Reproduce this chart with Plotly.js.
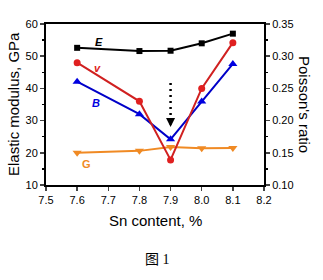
<!DOCTYPE html>
<html><head><meta charset="utf-8">
<script src="https://cdn.plot.ly/plotly-3.0.1.min.js"></script>
<style>html,body{margin:0;padding:0;background:#fff}#c{width:323px;height:280px}</style>
</head><body><div id="c"></div>
<script>
const snContent = [7.6, 7.8, 7.9, 8.0, 8.1];
const E = [52.6, 51.6, 51.7, 54.0, 57.0];
const B = [42.1, 32.0, 24.2, 35.9, 47.6];
const G = [20.0, 20.6, 21.8, 21.4, 21.5];
const nu = [0.290, 0.230, 0.139, 0.250, 0.321];
const xTicks = [7.5, 7.6, 7.7, 7.8, 7.9, 8.0, 8.1, 8.2];

const font = "Liberation Sans, Arial, sans-serif";
const traces = [
  {x: snContent, y: E, mode: 'lines+markers', line: {color: '#000', width: 2}, marker: {symbol: 'square', size: 6, color: '#000'}},
  {x: snContent, y: B, mode: 'lines+markers', line: {color: '#0000c8', width: 2}, marker: {symbol: 'triangle-up', size: 8, color: '#0000e0'}},
  {x: snContent, y: G, mode: 'lines+markers', line: {color: '#f08a24', width: 2}, marker: {symbol: 'triangle-down', size: 8, color: '#f08a24'}},
  {x: snContent, y: nu, yaxis: 'y2', mode: 'lines+markers', line: {color: '#d02020', width: 2}, marker: {symbol: 'circle', size: 7, color: '#e02020'}}
];
const layout = {
  width: 323, height: 280,
  margin: {l: 46, r: 59, t: 24, b: 95},
  paper_bgcolor: '#fff', plot_bgcolor: '#fff',
  showlegend: false,
  font: {family: font, size: 11, color: '#000'},
  xaxis: {range: [7.5, 8.2], tickvals: xTicks, ticktext: xTicks.map(v => v.toFixed(1)),
    ticks: 'outside', ticklen: 4, tickwidth: 1.5, showline: true, linewidth: 2, linecolor: '#000',
    mirror: true, showgrid: false, zeroline: false, tickfont: {size: 11}},
  yaxis: {range: [10, 60], dtick: 10, ticks: 'outside', ticklen: 4, tickwidth: 1.5,
    showline: true, linewidth: 2, linecolor: '#000', showgrid: false, zeroline: false,
    tickfont: {size: 11}, minor: {dtick: 5, ticks: 'outside', ticklen: 2, tickcolor: '#000'}},
  yaxis2: {range: [0.10, 0.35], overlaying: 'y', side: 'right', tickvals: [0.10,0.15,0.20,0.25,0.30,0.35],
    ticktext: ['0.10','0.15','0.20','0.25','0.30','0.35'],
    ticks: 'outside', ticklen: 4, tickwidth: 1.5, showline: true, linewidth: 2, linecolor: '#000',
    showgrid: false, zeroline: false, tickfont: {size: 11},
    minor: {dtick: 0.025, ticks: 'outside', ticklen: 2, tickcolor: '#000'}},
  shapes: [
    {type: 'line', xref: 'x', yref: 'y', x0: 7.9, x1: 7.9, y0: 41.7, y1: 31.0, line: {color: '#000', width: 2.5, dash: '2px,4px'}}
  ],
  annotations: [
    {x: 7.9, y: 28.0, ax: 7.9, ay: 30.2, xref: 'x', yref: 'y', axref: 'x', ayref: 'y', text: '', showarrow: true, arrowhead: 2, arrowsize: 0.9, arrowwidth: 2, arrowcolor: '#000'},
    {x: 7.67, y: 54.3, xref: 'x', yref: 'y', text: '<b><i>E</i></b>', showarrow: false, font: {size: 11, color: '#000'}},
    {x: 7.665, y: 46.2, xref: 'x', yref: 'y', text: '<b><i>v</i></b>', showarrow: false, font: {size: 11, color: '#e02020'}},
    {x: 7.66, y: 35.6, xref: 'x', yref: 'y', text: '<b><i>B</i></b>', showarrow: false, font: {size: 11, color: '#0000e0'}},
    {x: 7.63, y: 16.5, xref: 'x', yref: 'y', text: '<b>G</b>', showarrow: false, font: {size: 11, color: '#f08a24'}},
    {x: 13, y: 104, text: 'Elastic modulus, GPa', showarrow: false, textangle: -90,
      font: {size: 15}, xanchor: 'center', yanchor: 'middle'},
    {x: 305, y: 104, text: "Poisson's ratio", showarrow: false, textangle: 90, font: {size: 15}, xanchor: 'center', yanchor: 'middle'},
    {x: 155, y: 220, text: 'Sn content, %', showarrow: false, font: {size: 15}, xanchor: 'center', yanchor: 'middle'},
    {x: 157, y: 259, text: '图 1', showarrow: false, font: {size: 14, family: 'Liberation Serif, Noto Sans CJK SC'}, xanchor: 'center', yanchor: 'middle'}
  ]
};
const pw = 323 - 46 - 59, ph = 280 - 24 - 95;
layout.annotations.forEach(a => {
  if (!a.xref) {
    a.xref = 'paper'; a.yref = 'paper';
    a.x = (a.x - 46) / pw; a.y = (185 - a.y) / ph;
  }
});
Plotly.newPlot('c', traces, layout, {staticPlot: true});
</script></body></html>
